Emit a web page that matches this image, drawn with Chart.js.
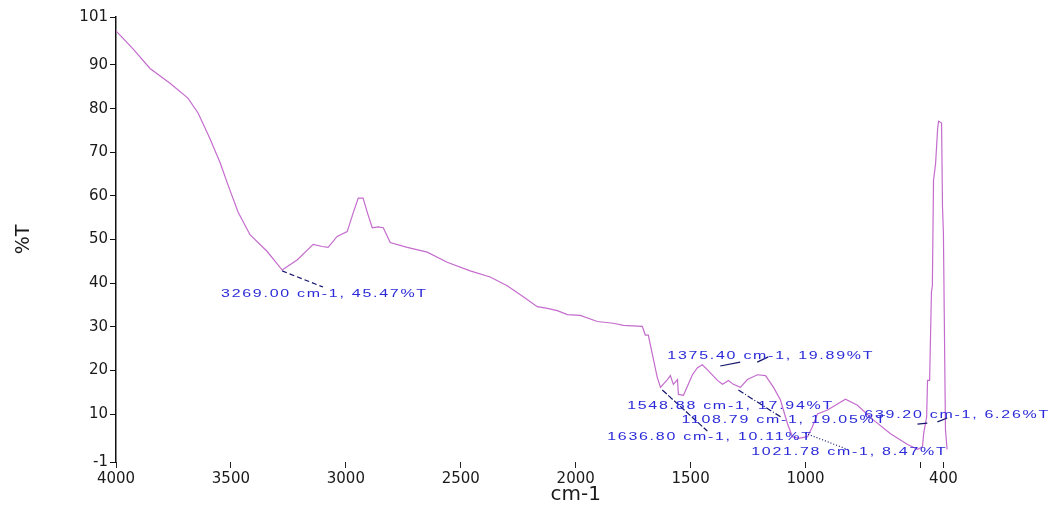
<!DOCTYPE html>
<html>
<head>
<meta charset="utf-8">
<script src="https://cdn.jsdelivr.net/npm/chart.js@4.4.1/dist/chart.umd.min.js"></script>
<style>
  html, body { margin: 0; padding: 0; background: #fff; }
  #wrap { width: 1059px; height: 510px; }
</style>
</head>
<body>
<div id="wrap"><canvas id="grafica" width="1059" height="510"></canvas></div>
<script>
// espectro IR: numero de onda (cm-1) y transmitancia (%T)
const wavenumbers = [4000, 3926, 3852, 3765, 3687, 3643, 3591, 3547, 3512, 3469, 3417, 3343, 3277, 3212, 3142, 3103, 3077, 3038, 2994, 2968,
  2946, 2925, 2903, 2885, 2859, 2837, 2807, 2733, 2646, 2559, 2459, 2372, 2298, 2228, 2167, 2123, 2080, 2036, 1980, 1906,
  1836, 1793, 1710, 1697, 1684, 1666, 1645, 1631, 1601, 1588, 1575, 1557, 1553, 1531, 1510, 1492, 1470, 1449, 1422, 1383,
  1361, 1335, 1314, 1283, 1253, 1209, 1174, 1139, 1109, 1078, 1057, 1031, 991, 970, 948, 904, 861, 826, 774, 704,
  630, 556, 512, 491, 486, 473, 469, 460, 452, 448, 443, 434, 425, 421, 408, 404, 400, 391, 384];
const transmittance = [97.8, 93.7, 89.2, 85.8, 82.4, 79.0, 73.1, 67.6, 62.4, 56.3, 51.1, 47.3, 43.0, 45.3, 48.9, 48.4, 48.2, 50.7, 51.8, 56.1,
  59.5, 59.5, 55.6, 52.7, 52.9, 52.7, 49.3, 48.2, 47.1, 44.8, 42.8, 41.4, 39.4, 36.9, 34.6, 34.2, 33.7, 32.8, 32.6, 31.2,
  30.8, 30.3, 30.1, 28.1, 28.1, 23.6, 18.4, 16.1, 17.9, 18.8, 16.8, 17.9, 14.5, 14.3, 16.8, 19.0, 20.6, 21.3, 19.9, 17.7,
  16.8, 17.7, 16.8, 16.1, 17.9, 19.0, 18.8, 16.1, 13.2, 7.7, 4.8, 4.4, 4.8, 7.1, 10.0, 10.9, 12.3, 13.4, 12.0, 8.6,
  5.5, 3.0, 1.9, 2.5, 5.5, 9.3, 17.7, 17.7, 38.0, 39.4, 63.6, 67.4, 75.5, 77.1, 76.7, 57.5, 51.6, 6.4, 1.9];

const xTicks = [4000, 3500, 3000, 2500, 2000, 1500, 1000, 500, 400];
const xTickLabels = ['4000', '3500', '3000', '2500', '2000', '1500', '1000', '', '400'];
const yTicks = [-1, 10, 20, 30, 40, 50, 60, 70, 80, 90, 101];

const peakLabels = [
  '3269.00 cm-1, 45.47%T',
  '1375.40 cm-1, 19.89%T',
  '1548.88 cm-1, 17.94%T',
  '1108.79 cm-1, 19.05%T',
  '1636.80 cm-1, 10.11%T',
  '1021.78 cm-1, 8.47%T',
  '639.20 cm-1, 6.26%T'
];

// donde va cada etiqueta (cm-1, %T), en el mismo orden que peakLabels
const labelSpots = [[3543, 36.8], [1601, 22.6], [1776, 11.1], [1540, 7.9], [1863, 4.0], [1236, 0.5], [744, 9.1]];

// lineas guia entre pico y etiqueta
const leaders = [
  { from: [3277, 42.8], to: [3099, 39.1], dash: [5, 3] },
  { from: [1623, 15.5], to: [1427, 6.1], dash: [6, 2] },
  { from: [1292, 15.5], to: [1101, 9.1], dash: [6, 2, 1, 2] },
  { from: [1001, 5.6], to: [813, 1.8], dash: [1, 2] },
  { from: [1371, 21.0], to: [1284, 21.9], dash: [] },
  { from: [1210, 21.9], to: [1162, 23.1], dash: [] },
  { from: [513, 7.7], to: [470, 7.9], dash: [] },
  { from: [426, 8.2], to: [383, 9.1], dash: [] }
];

const notasPlugin = {
  id: 'notas',
  afterDraw(chart) {
    const { ctx, scales: { x, y } } = chart;
    ctx.save();
    ctx.strokeStyle = '#15156e';
    ctx.lineWidth = 1.2;
    leaders.forEach(l => {
      ctx.setLineDash(l.dash);
      ctx.beginPath();
      ctx.moveTo(x.getPixelForValue(l.from[0]), y.getPixelForValue(l.from[1]));
      ctx.lineTo(x.getPixelForValue(l.to[0]), y.getPixelForValue(l.to[1]));
      ctx.stroke();
    });
    ctx.setLineDash([]);

    ctx.fillStyle = '#2a2ad8';
    ctx.font = '11px "Liberation Sans", Arial, sans-serif';
    ctx.textBaseline = 'alphabetic';
    ctx.textAlign = 'left';
    ctx.letterSpacing = '1.2px';
    peakLabels.forEach((txt, i) => {
      ctx.save();
      ctx.translate(x.getPixelForValue(labelSpots[i][0]), y.getPixelForValue(labelSpots[i][1]));
      ctx.scale(1.45, 1);
      ctx.fillText(txt, 0, 0);
      ctx.restore();
    });
    ctx.letterSpacing = '0px';

    // titulo del eje x, centrado bajo 2000
    ctx.fillStyle = '#1a1a1a';
    ctx.font = '20px "DejaVu Sans", sans-serif';
    ctx.textAlign = 'center';
    ctx.textBaseline = 'middle';
    ctx.fillText('cm-1', x.getPixelForValue(2000), 495);
    ctx.restore();
  }
};

const puntos = wavenumbers.map((w, i) => ({ x: w, y: transmittance[i] }));

new Chart(document.getElementById('grafica'), {
  type: 'line',
  data: {
    datasets: [{
      data: puntos,
      borderColor: '#c46ccd',
      borderWidth: 1.2,
      pointRadius: 0,
      tension: 0,
      fill: false
    }]
  },
  options: {
    responsive: false,
    animation: false,
    layout: { padding: { top: 17, right: 111, bottom: 0, left: 0 } },
    plugins: { legend: { display: false }, tooltip: { enabled: false } },
    scales: {
      x: {
        type: 'linear',
        reverse: true,
        min: 380,
        max: 4000,
        afterBuildTicks: s => { s.ticks = xTicks.map(v => ({ value: v })); },
        afterFit: s => { s.height = 48; },
        grid: { drawOnChartArea: false, drawTicks: true, tickLength: 6, color: '#222' },
        border: { display: false },
        ticks: {
          autoSkip: false,
          maxRotation: 0,
          padding: 2,
          color: '#1a1a1a',
          font: { family: '"DejaVu Sans", sans-serif', size: 15 },
          callback: v => xTickLabels[xTicks.indexOf(v)]
        }
      },
      y: {
        min: -1,
        max: 101,
        afterBuildTicks: s => { s.ticks = yTicks.map(v => ({ value: v })); },
        afterFit: s => { s.width = 116; },
        grid: { drawOnChartArea: false, drawTicks: true, tickLength: 6, color: '#111' },
        border: { display: true, color: '#111', width: 1.5 },
        ticks: {
          autoSkip: false,
          padding: 2,
          color: '#1a1a1a',
          font: { family: '"DejaVu Sans", sans-serif', size: 15 }
        },
        title: {
          display: true,
          text: '%T',
          color: '#1a1a1a',
          font: { family: '"DejaVu Sans", sans-serif', size: 19 },
          padding: { top: 13, bottom: 0 }
        }
      }
    }
  },
  plugins: [notasPlugin]
});
</script>
</body>
</html>
